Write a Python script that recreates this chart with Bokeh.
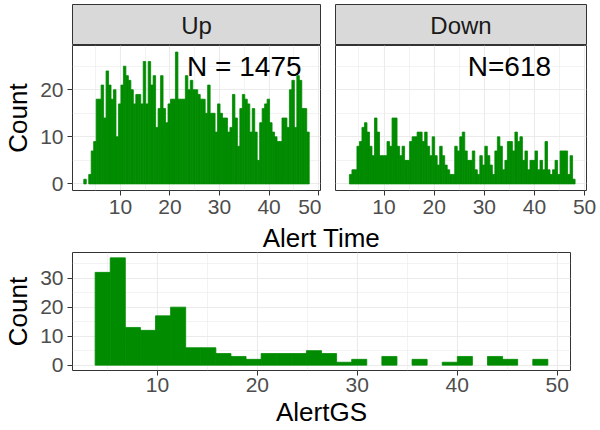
from bokeh.plotting import figure
from bokeh.layouts import column, row
from bokeh.models import Range1d, FixedTicker, Label, ColumnDataSource
from bokeh.embed import file_html
from bokeh.resources import INLINE
from bokeh.core.properties import value

# ---------------- data ----------------
facets = ["Up", "Down"]
n_labels = ["N = 1475", "N=618"]
n_label_x = 35
n_label_y = 25

time_bin_start = 2.6
time_bin_width = 0.5
up_counts = [1, 0, 2, 7, 9, 18, 18, 21, 14, 24, 21, 18, 20, 10, 17, 21, 25, 23, 22, 20,
             17, 19, 19, 17, 26, 17, 26, 21, 23, 12, 16, 23, 16, 13, 17, 18, 18, 28, 18, 18,
             18, 23, 20, 22, 20, 20, 19, 18, 18, 15, 21, 15, 15, 11, 17, 15, 14, 14, 11, 12,
             19, 14, 8, 16, 19, 18, 17, 11, 16, 11, 5, 13, 16, 17, 18, 13, 11, 10, 9, 9,
             14, 14, 12, 20, 22, 12, 23, 22, 16, 16, 11]
down_counts = [0, 2, 3, 3, 8, 9, 12, 13, 11, 8, 6, 14, 11, 6, 6, 6, 9, 8, 14, 14,
               8, 6, 8, 5, 5, 9, 10, 10, 11, 11, 9, 11, 8, 6, 10, 6, 4, 8, 6, 4,
               3, 2, 2, 8, 7, 10, 11, 7, 5, 5, 7, 3, 2, 6, 4, 8, 6, 4, 2, 7,
               10, 8, 3, 5, 9, 9, 7, 11, 9, 10, 5, 7, 3, 5, 5, 7, 3, 5, 3, 9,
               3, 2, 3, 5, 2, 7, 7, 7, 2, 6, 1]

gs_bin_start = 3.77
gs_bin_width = 1.51
gs_counts = [32, 37, 13, 12, 17, 20, 6, 6, 4, 3, 2, 4, 4, 4, 5, 4, 1, 2, 0, 3,
             0, 2, 0, 1, 3, 0, 3, 2, 0, 2]

time_ticks = [10, 20, 30, 40, 50]
time_minor = [5, 15, 25, 35, 45]
top_count_ticks = [0, 10, 20]
top_count_minor = [5, 15, 25]
gs_ticks = [10, 20, 30, 40, 50]
gs_minor = [5, 15, 25, 35, 45]
bottom_count_ticks = [0, 10, 20, 30]
bottom_count_minor = [5, 15, 25, 35]

# ---------------- style ----------------
FONT = "Liberation Sans"
GREEN = "#008B00"
BORDER = "#333333"
GRID = "#EBEBEB"
TICK_FS = "21px"
TITLE_FS = "26px"
STRIP_FS = "24px"
N_FS = "28px"


def hist_source(start, width, counts):
    # one bar per non-empty bin
    left, right, top = [], [], []
    for i, c in enumerate(counts):
        if c > 0:
            left.append(start + i * width)
            right.append(start + (i + 1) * width)
            top.append(c)
    return ColumnDataSource(dict(left=left, right=right, top=top))


def padded(lo, hi, frac=0.05):
    d = (hi - lo) * frac
    return Range1d(lo - d, hi + d)


def style(p, xt, xm, yt, ym):
    p.outline_line_color = BORDER
    p.outline_line_width = 1
    p.background_fill_color = "white"
    p.border_fill_color = "white"
    for ax in list(p.xaxis) + list(p.yaxis):
        ax.axis_line_color = None
        ax.major_tick_line_color = BORDER
        ax.major_tick_out = 5
        ax.major_tick_in = 0
        ax.minor_tick_line_color = None
        ax.major_label_text_font = FONT
        ax.major_label_text_font_size = TICK_FS
        ax.major_label_text_color = "#4D4D4D"
        ax.major_label_standoff = 4
        ax.axis_label_text_font = FONT
        ax.axis_label_text_font_size = TITLE_FS
        ax.axis_label_text_font_style = "normal"
        ax.axis_label_text_color = "black"
        ax.axis_label_standoff = 4
    for ax in p.xaxis:
        ax.ticker = FixedTicker(ticks=xt)
    for ax in p.yaxis:
        ax.ticker = FixedTicker(ticks=yt)
    p.xgrid.ticker = FixedTicker(ticks=xt, minor_ticks=xm)
    p.ygrid.ticker = FixedTicker(ticks=yt, minor_ticks=ym)
    for g in list(p.xgrid) + list(p.ygrid):
        g.grid_line_color = GRID
        g.grid_line_width = 1.1
        g.minor_grid_line_color = GRID
        g.minor_grid_line_width = 0.6


# top facet geometry (pixels)
UP_LEFT, UP_RIGHT, UP_W = 69, 1, 321
DOWN_LEFT, DOWN_RIGHT, DOWN_W = 14, 14, 279
STRIP_H = 45
PANEL_H = 175

n_time = len(up_counts)
t_lo = time_bin_start
t_hi = time_bin_start + n_time * time_bin_width
xr_top = padded(t_lo, t_hi)
yr_top = padded(0, max(max(up_counts), max(down_counts)))


def strip(title, width, left, right):
    s = figure(width=width, height=STRIP_H, x_range=Range1d(0, 1), y_range=Range1d(0, 1),
               toolbar_location=None, output_backend="svg",
               x_axis_location=None, y_axis_location=None,
               min_border_left=left, min_border_right=right,
               min_border_top=4, min_border_bottom=0)
    s.xgrid.visible = False
    s.ygrid.visible = False
    s.background_fill_color = "#D9D9D9"
    s.border_fill_color = "white"
    s.outline_line_color = BORDER
    s.add_layout(Label(x=0.5, y=0.5, text=title, text_align="center", text_baseline="middle",
                       text_font=FONT, text_font_size=STRIP_FS, text_color="#1A1A1A"))
    return s


def panel(counts, nlab, width, left, right, show_y):
    p = figure(width=width, height=PANEL_H, x_range=xr_top, y_range=yr_top,
               toolbar_location=None, output_backend="svg",
               y_axis_location="left" if show_y else None,
               min_border_left=left, min_border_right=right,
               min_border_top=0, min_border_bottom=30)
    p.quad(left="left", right="right", bottom=0, top="top",
           source=hist_source(time_bin_start, time_bin_width, counts),
           fill_color=GREEN, line_color=GREEN, line_width=0.8)
    p.text(x=[n_label_x], y=[n_label_y], text=[nlab], text_font=value(FONT),
           text_font_size=N_FS, text_align="center", text_baseline="middle",
           text_color="black")
    if show_y:
        p.yaxis.axis_label = "Count"
    style(p, time_ticks, time_minor, top_count_ticks, top_count_minor)
    return p


up_strip = strip(facets[0], UP_W, UP_LEFT, UP_RIGHT)
up_fig = panel(up_counts, n_labels[0], UP_W, UP_LEFT, UP_RIGHT, True)
down_strip = strip(facets[1], DOWN_W, DOWN_LEFT, DOWN_RIGHT)
down_fig = panel(down_counts, n_labels[1], DOWN_W, DOWN_LEFT, DOWN_RIGHT, False)

# shared x title for the two top facets: an empty axis spanning both panels
LAB_H = 32
lab = figure(width=600, height=LAB_H, x_range=Range1d(0, 1), y_range=Range1d(0, 1),
             toolbar_location=None, output_backend="svg",
             x_axis_location="above", y_axis_location=None,
             min_border_left=UP_LEFT, min_border_right=DOWN_RIGHT,
             min_border_top=0, min_border_bottom=0)
lab.xgrid.visible = False
lab.ygrid.visible = False
lab.outline_line_color = None
lab.background_fill_color = "white"
lab.border_fill_color = "white"
lab.xaxis.axis_label = "Alert Time"
lab.xaxis.axis_line_color = None
lab.xaxis.major_tick_line_color = None
lab.xaxis.minor_tick_line_color = None
lab.xaxis.major_tick_out = 0
lab.xaxis.major_label_text_font_size = "0px"
lab.xaxis.major_label_standoff = 0
lab.xaxis.ticker = FixedTicker(ticks=[])
lab.xaxis.axis_label_standoff = 0
lab.xaxis.axis_label_text_font = FONT
lab.xaxis.axis_label_text_font_size = TITLE_FS
lab.xaxis.axis_label_text_font_style = "normal"
lab.xaxis.axis_label_text_color = "black"

# bottom histogram
n_gs = len(gs_counts)
g_lo = gs_bin_start
g_hi = gs_bin_start + n_gs * gs_bin_width
bot = figure(width=600, height=430 - STRIP_H - PANEL_H - LAB_H,
             x_range=padded(g_lo, g_hi), y_range=padded(0, max(gs_counts)),
             toolbar_location=None, output_backend="svg",
             min_border_left=67, min_border_right=30, min_border_top=0, min_border_bottom=60)
bot.quad(left="left", right="right", bottom=0, top="top",
         source=hist_source(gs_bin_start, gs_bin_width, gs_counts),
         fill_color=GREEN, line_color=GREEN, line_width=0.8)
bot.xaxis.axis_label = "AlertGS"
bot.yaxis.axis_label = "Count"
style(bot, gs_ticks, gs_minor, bottom_count_ticks, bottom_count_minor)
bot.xaxis.axis_label_standoff = 2
bot.xaxis.major_label_standoff = 2

top_row = row(column(up_strip, up_fig, spacing=0), column(down_strip, down_fig, spacing=0), spacing=0)
layout = column(top_row, lab, bot, spacing=0)

open("out.html", "w").write(file_html(layout, INLINE))
